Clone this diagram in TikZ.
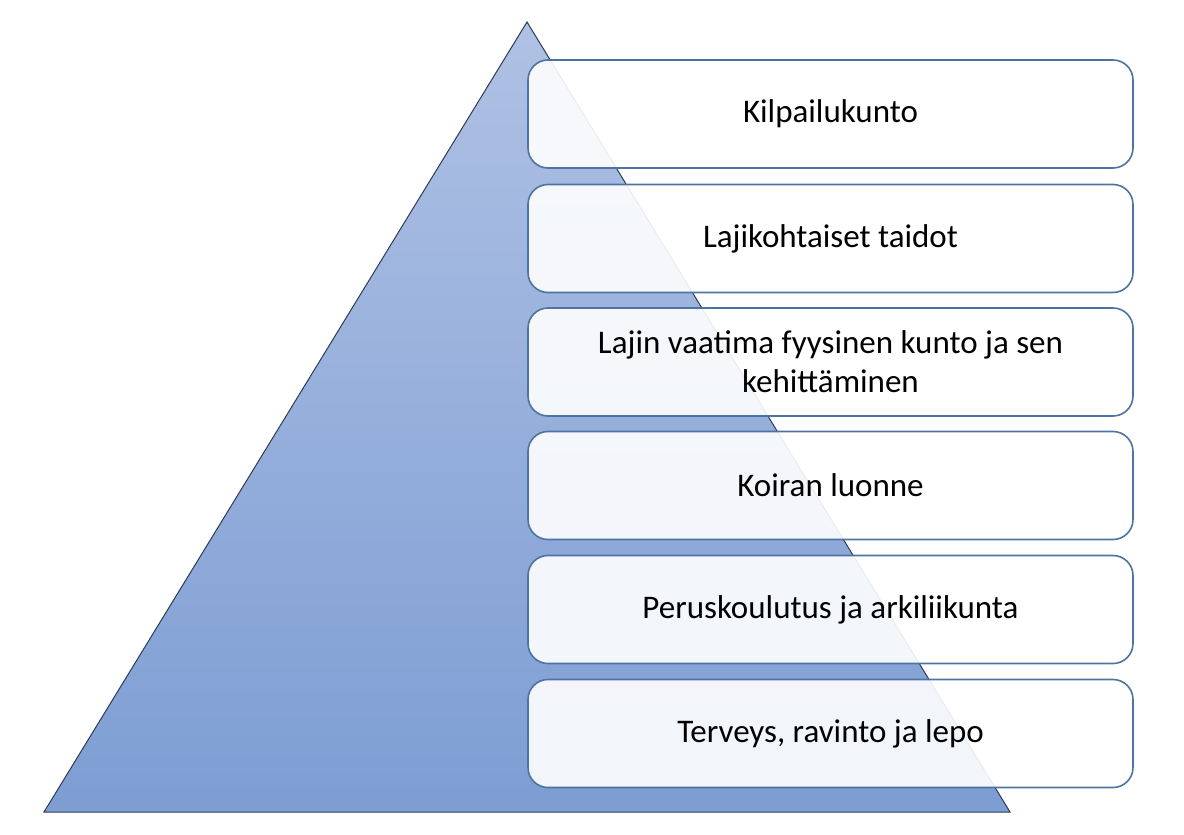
\documentclass[tikz,border=0pt]{standalone}
\usepackage{fontspec}
\setmainfont{Carlito}
\definecolor{pyrtop}{HTML}{AFC1E4}
\definecolor{pyrbottom}{HTML}{7D9DD3}
\definecolor{pyrline}{HTML}{2E3B55}
\definecolor{boxline}{HTML}{4D73A1}
\tikzset{
  tier/.style={draw=boxline, line width=1.6pt, rounded corners=20pt,
    fill=white, fill opacity=0.9, text opacity=1,
    minimum width=605pt, minimum height=108pt, align=center,
    font=\fontsize{33}{39}\selectfont}
}
\begin{document}
\begin{tikzpicture}[x=1pt, y=-1pt]
  \useasboundingbox (0,0) rectangle (1184,835);

  % Pyramid
  \coordinate (A) at (527,22);
  \coordinate (L) at (44,812);
  \coordinate (R) at (1010,812);
  \shade[top color=pyrtop, bottom color=pyrbottom] (A) -- (L) -- (R) -- cycle;
  \draw[pyrline, line width=1pt, line join=miter] (A) -- (L) -- (R) -- cycle;

  % Levels, top to bottom
  \node[tier] (kilpailu) at (830.5,114) {Kilpailukunto};
  \node[tier] (taidot) at (830.5,238.5) {Lajikohtaiset taidot};
  \node[tier] (kunto) at (830.5,362) {Lajin vaatima fyysinen kunto ja sen\\kehittäminen};
  \node[tier] (luonne) at (830.5,485.5) {Koiran luonne};
  \node[tier] (perus) at (830.5,609.5) {Peruskoulutus ja arkiliikunta};
  \node[tier] (terveys) at (830.5,733.5) {Terveys, ravinto ja lepo};
\end{tikzpicture}
\end{document}
